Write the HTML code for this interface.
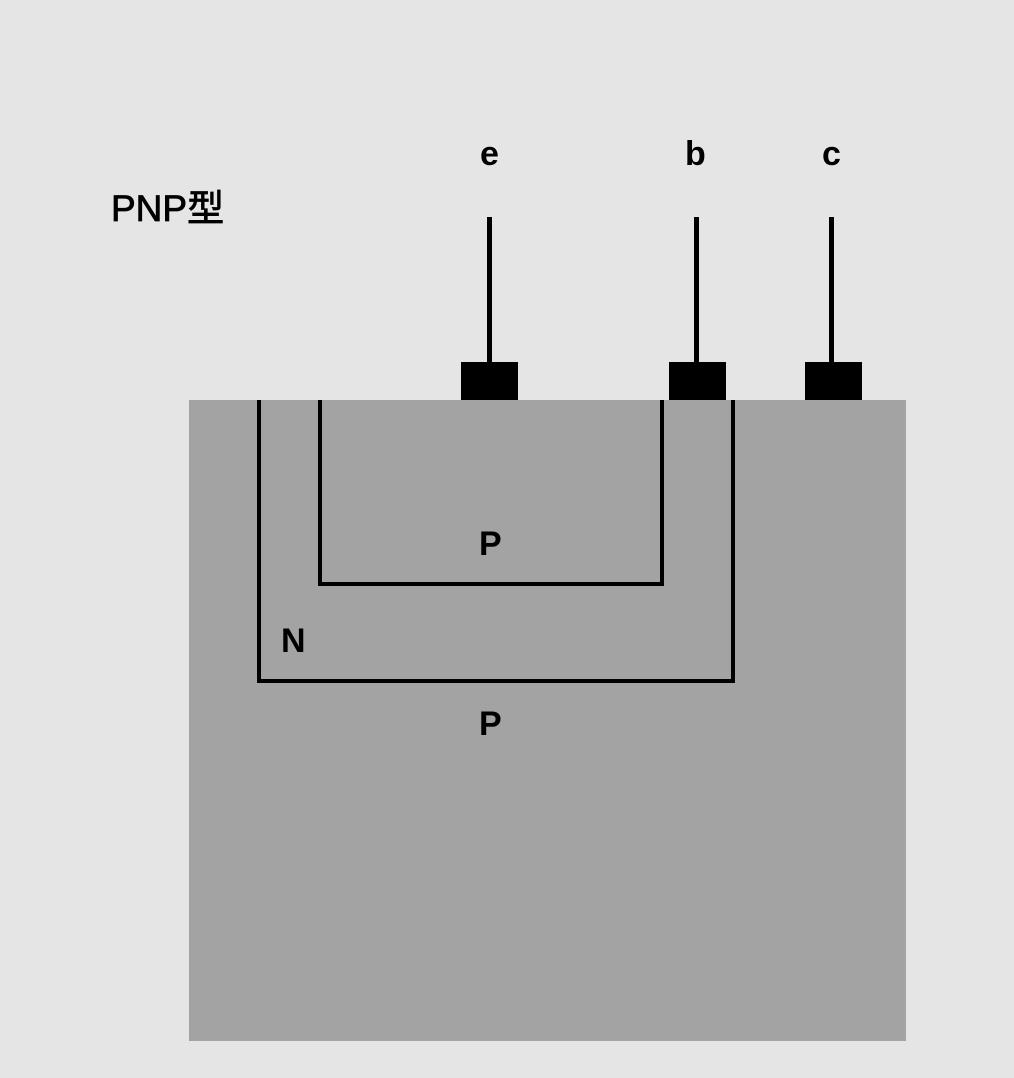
<!DOCTYPE html>
<html><head><style>
body{margin:0;width:1014px;height:1078px;background:#e6e5e6;position:relative;overflow:hidden;font-family:"Liberation Sans","Noto Sans CJK SC",sans-serif;}
div{position:absolute;}
.k{background:#000;}
.t{font-size:34px;color:#000;line-height:1;font-weight:bold;}
</style></head><body>
<div class="t" style="left:111px;top:190px;font-size:37px;font-weight:normal;-webkit-text-stroke:0.8px #000;">PNP型</div>
<div class="t" style="left:480px;top:137px;">e</div>
<div class="t" style="left:685px;top:137px;">b</div>
<div class="t" style="left:822px;top:137px;">c</div>
<div class="k" style="left:487px;top:217px;width:5px;height:150px;"></div>
<div class="k" style="left:694px;top:217px;width:5px;height:150px;"></div>
<div class="k" style="left:829px;top:217px;width:5px;height:150px;"></div>
<div style="left:189px;top:400px;width:717px;height:641px;background:#a3a3a3;"></div>
<div class="k" style="left:461px;top:362px;width:57px;height:38px;"></div>
<div class="k" style="left:669px;top:362px;width:57px;height:38px;"></div>
<div class="k" style="left:805px;top:362px;width:57px;height:38px;"></div>
<div style="left:318px;top:400px;width:338px;height:182px;border:4px solid #000;border-top:none;"></div>
<div style="left:257px;top:400px;width:470px;height:279px;border:4px solid #000;border-top:none;"></div>
<div class="t" style="left:479px;top:527px;">P</div>
<div class="t" style="left:281px;top:624px;">N</div>
<div class="t" style="left:479px;top:707px;">P</div>
</body></html>
